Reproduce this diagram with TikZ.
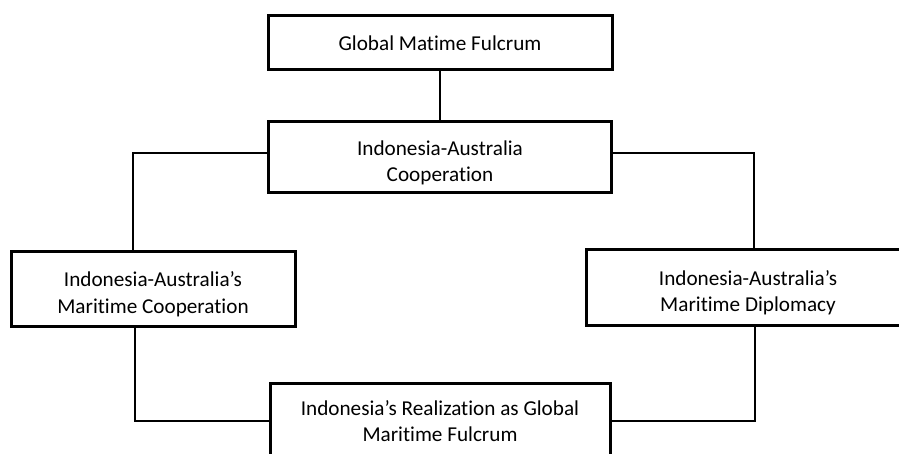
\documentclass[tikz,border=0pt]{standalone}
\usepackage{fontspec}
\setmainfont[Ligatures=NoCommon]{Carlito}
\usetikzlibrary{positioning}
\tikzset{font={\fontsize{21.2pt}{26.5pt}\selectfont}}
\tikzset{box/.style={draw,line width=3pt,align=center,inner sep=0pt}}
\tikzset{link/.style={line width=1.6pt}}
\newcommand{\tallstrut}{\rule{0pt}{25.5pt}}

\begin{document}
\begin{tikzpicture}[x=1pt,y=-1pt]
\useasboundingbox (0,0) rectangle (899,454);
\clip (0,0) rectangle (899,454);
\node[box,minimum width=344,minimum height=54] (gmf) at (440,43) {Global Matime Fulcrum};
\node[box,minimum width=343,minimum height=71] (coop) at (440,157.5) {\tallstrut Indonesia-Australia\\Cooperation};
\node[box,minimum width=284,minimum height=74] (mcoop) at (153,289) {\tallstrut Indonesia-Australia’s\\Maritime Cooperation};
\node[box,minimum width=324,minimum height=75] (mdip) at (748,287.5) {\tallstrut Indonesia-Australia’s\\Maritime Diplomacy};
\node[box,minimum width=340,minimum height=76] (real) at (440,421) {Indonesia’s Realization as Global\\Maritime Fulcrum};

\draw[link] (gmf) -- (coop);
\draw[link] ([yshift=4.5pt]coop.west) -| ([xshift=-20pt]mcoop.north);
\draw[link] ([yshift=4.5pt]coop.east) -| ([xshift=6pt]mdip.north);
\draw[link] ([xshift=-18pt]mcoop.south) |- (real.west);
\draw[link] ([xshift=7pt]mdip.south) |- (real.east);

\end{tikzpicture}
\end{document}
